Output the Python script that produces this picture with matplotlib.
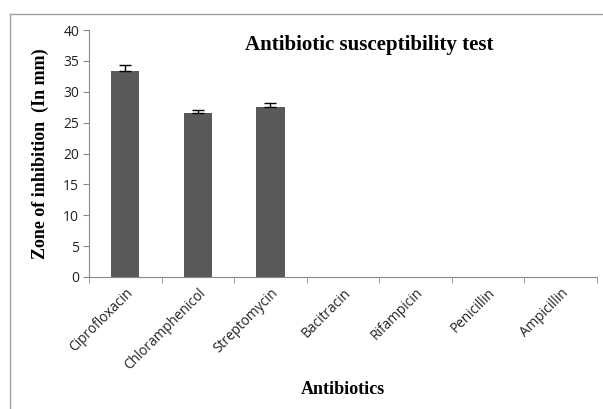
import matplotlib.pyplot as plt
from matplotlib.lines import Line2D
import numpy as np

# ---------- Data ----------
antibiotics = ["Ciprofloxacin", "Chloramphenicol", "Streptomycin", "Bacitracin",
               "Rifampicin", "Penicillin", "Ampicillin"]
zone_mm = [33.3, 26.5, 27.6, 0, 0, 0, 0]
zone_err = [1.1, 0.6, 0.5, 0, 0, 0, 0]
y_ticks = [0, 5, 10, 15, 20, 25, 30, 35, 40]

# ---------- Plot ----------
fig = plt.figure(figsize=(6.03, 4.09), dpi=100)
ax = fig.add_axes([89 / 603, 1 - 277 / 409, 508 / 603, 247 / 409])

x = np.arange(len(antibiotics))
has_err = np.array([e > 0 for e in zone_err])
ax.bar(x, zone_mm, width=0.39, color="#595959", zorder=2)
ax.errorbar(x[has_err], np.array(zone_mm)[has_err],
            yerr=[np.zeros(has_err.sum()), np.array(zone_err)[has_err]],
            fmt="none", ecolor="black", elinewidth=1, capsize=4, capthick=1, zorder=3)

ax.set_xlim(-0.5, len(antibiotics) - 0.5)
ax.set_ylim(0, 40)
ax.set_yticks(y_ticks)
ax.set_xticks(x)
ax.set_xticks(np.arange(-0.5, len(antibiotics)), minor=True)
ax.set_xticklabels(antibiotics, rotation=45, ha="right", rotation_mode="anchor",
                   fontsize=9.8, family="Open Sans", color="#222222")
for lab in ax.get_yticklabels():
    lab.set_family("Open Sans")
    lab.set_fontsize(10)
    lab.set_color("#222222")
ax.tick_params(axis="x", which="major", length=0, pad=6)
ax.tick_params(axis="x", which="minor", length=4, color="#888888", direction="out")
ax.tick_params(axis="y", length=4, color="#888888", direction="out", pad=3)

for s in ["top", "right"]:
    ax.spines[s].set_visible(False)
for s in ["left", "bottom"]:
    ax.spines[s].set_color("#888888")

ax.set_ylabel("Zone of inhibition  (In mm)", family="Liberation Serif",
              fontweight="bold", fontsize=13, labelpad=10)
ax.set_xlabel("Antibiotics", family="Liberation Serif", fontweight="bold",
              fontsize=13, labelpad=6)
fig.text(369 / 603, 1 - 45 / 409, "Antibiotic susceptibility test", family="Liberation Serif",
         fontweight="bold", fontsize=15, ha="center", va="center")

# chart-area border (only top and left are visible in the crop)
fig.add_artist(Line2D([10 / 603, 10 / 603], [0, 1 - 14 / 409], color="#a0a0a0", lw=1))
fig.add_artist(Line2D([10 / 603, 1], [1 - 14 / 409, 1 - 14 / 409], color="#a0a0a0", lw=1))

fig.savefig("out.png", dpi=100)
